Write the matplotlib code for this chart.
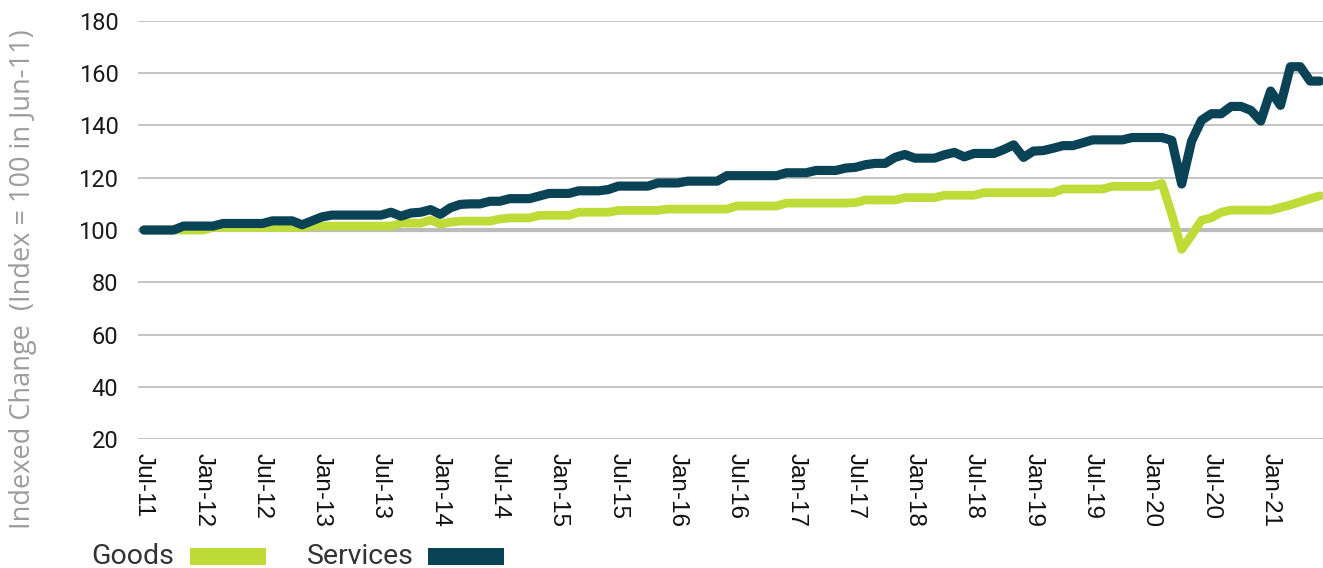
import matplotlib
matplotlib.use("Agg")
import matplotlib.pyplot as plt
import numpy as np
from matplotlib.patches import Rectangle

# monthly index, Jul-11 .. Jun-21 (Index = 100 in Jun-11)
months = [f"{m}-{y:02d}" for y in range(11, 22) for m in
          ["Jan", "Feb", "Mar", "Apr", "May", "Jun", "Jul", "Aug", "Sep", "Oct", "Nov", "Dec"]][6:126]

services = [
    100, 100, 100, 100, 101.5, 101.5, 101.5, 101.5, 102.5, 102.5,
    102.5, 102.5, 102.5, 103.5, 103.5, 103.5, 102, 103.5, 105, 105.7,
    105.7, 105.7, 105.7, 105.7, 105.7, 106.8, 105.3, 106.5, 106.8, 107.8,
    106, 108.5, 109.8, 110, 110, 111, 111, 112, 112, 112,
    113, 114, 114, 114, 115, 115, 115, 115.5, 116.8, 116.8,
    116.8, 116.8, 118, 118, 118, 118.7, 118.7, 118.7, 118.7, 120.8,
    120.8, 120.8, 120.8, 120.8, 120.8, 121.9, 121.9, 121.9, 122.8, 122.8,
    122.8, 123.7, 124, 125, 125.5, 125.5, 127.8, 128.9, 127.5, 127.5,
    127.5, 128.8, 129.7, 128, 129.3, 129.3, 129.3, 130.8, 132.6, 127.8,
    130.2, 130.4, 131.3, 132.3, 132.3, 133.4, 134.5, 134.5, 134.5, 134.5,
    135.4, 135.4, 135.4, 135.4, 134.3, 117.6, 134, 142, 144.5, 144.5,
    147.3, 147.3, 145.8, 141.7, 153.2, 147.7, 162.5, 162.5, 157, 157,
]

goods = [
    100, 100, 100, 100, 100, 100, 100, 101, 101, 101,
    101, 101, 101, 101, 101, 101, 101, 101.5, 101.5, 101.5,
    101.5, 101.5, 101.5, 101.5, 101.5, 101.5, 102.6, 102.6, 102.6, 103.8,
    102.3, 103, 103.4, 103.4, 103.4, 103.4, 104.2, 104.6, 104.6, 104.6,
    105.6, 105.6, 105.6, 105.6, 106.8, 106.8, 106.8, 106.8, 107.5, 107.5,
    107.5, 107.5, 107.5, 108, 108, 108, 108, 108, 108, 108,
    109.2, 109.2, 109.2, 109.2, 109.2, 110.3, 110.3, 110.3, 110.3, 110.3,
    110.3, 110.3, 110.5, 111.5, 111.5, 111.5, 111.5, 112.4, 112.4, 112.4,
    112.4, 113.3, 113.3, 113.3, 113.3, 114.3, 114.3, 114.3, 114.3, 114.3,
    114.3, 114.3, 114.3, 115.7, 115.7, 115.7, 115.7, 115.7, 116.7, 116.7,
    116.7, 116.7, 116.7, 117.8, 106, 92.6, 98, 103.7, 104.7, 106.8,
    107.6, 107.6, 107.6, 107.6, 107.6, 108.6, 109.6, 110.8, 112, 113.1,
]

yticks = [20, 40, 60, 80, 100, 120, 140, 160, 180]

goods_c = "#bfdb38"
serv_c = "#0b4356"
grid_c = "#c4c4c4"

x = np.arange(len(months))

W, H = 1323, 568
fig = plt.figure(figsize=(W / 100, H / 100), dpi=100)
ax = fig.add_axes([138/W, 1 - 439/H, 1 - 138/W, 418/H])

for t in yticks:
    if t != 100:
        ax.axhline(t, color=grid_c, lw=1.4, zorder=1)
ax.axhline(100, color="#bcbcbc", lw=3, zorder=2)

ax.plot(x, goods, color=goods_c, lw=6.3, solid_capstyle="round",
        solid_joinstyle="round", zorder=3)
ax.plot(x, services, color=serv_c, lw=6.6, solid_capstyle="round",
        solid_joinstyle="round", zorder=4)

ax.set_xlim(-0.6, 119.3)
ax.set_ylim(20, 180)
ax.set_yticks(yticks)
ax.set_yticklabels([str(t) for t in yticks],
                   fontfamily=["Liberation Sans Narrow", "Roboto"],
                   fontsize=17, color="#1a1a1a")
ax.set_xticks(x[::6])
ax.set_xticklabels(months[::6], rotation=270, fontsize=17.5,
                   fontfamily=["Liberation Sans", "DejaVu Sans"],
                   color="#111111", va="top", ha="center")
ax.tick_params(axis="y", length=0, pad=14)
ax.tick_params(axis="x", length=0, pad=10)
for s in ax.spines.values():
    s.set_visible(False)

ax.set_ylabel("Indexed Change  (Index = 100 in Jun-11)", fontsize=19.5,
              color="#9c9c9c", fontfamily=["Open Sans", "DejaVu Sans"])
ax.yaxis.set_label_coords(-0.085, 0.383)

# legend: label first, colour box after it
leg_font = {"family": ["Roboto", "DejaVu Sans"], "size": 20.5}
for label, col, tx, bx in [("Goods", goods_c, 91, 190), ("Services", serv_c, 307, 428)]:
    fig.text(tx / W, 1 - 556 / H, label, color="#333333", va="center",
             ha="left", fontdict=leg_font)
    fig.add_artist(Rectangle((bx / W, 1 - 565 / H), 76 / W, 17 / H,
                             transform=fig.transFigure, facecolor=col,
                             edgecolor="none"))

fig.savefig("out.png", dpi=100)
